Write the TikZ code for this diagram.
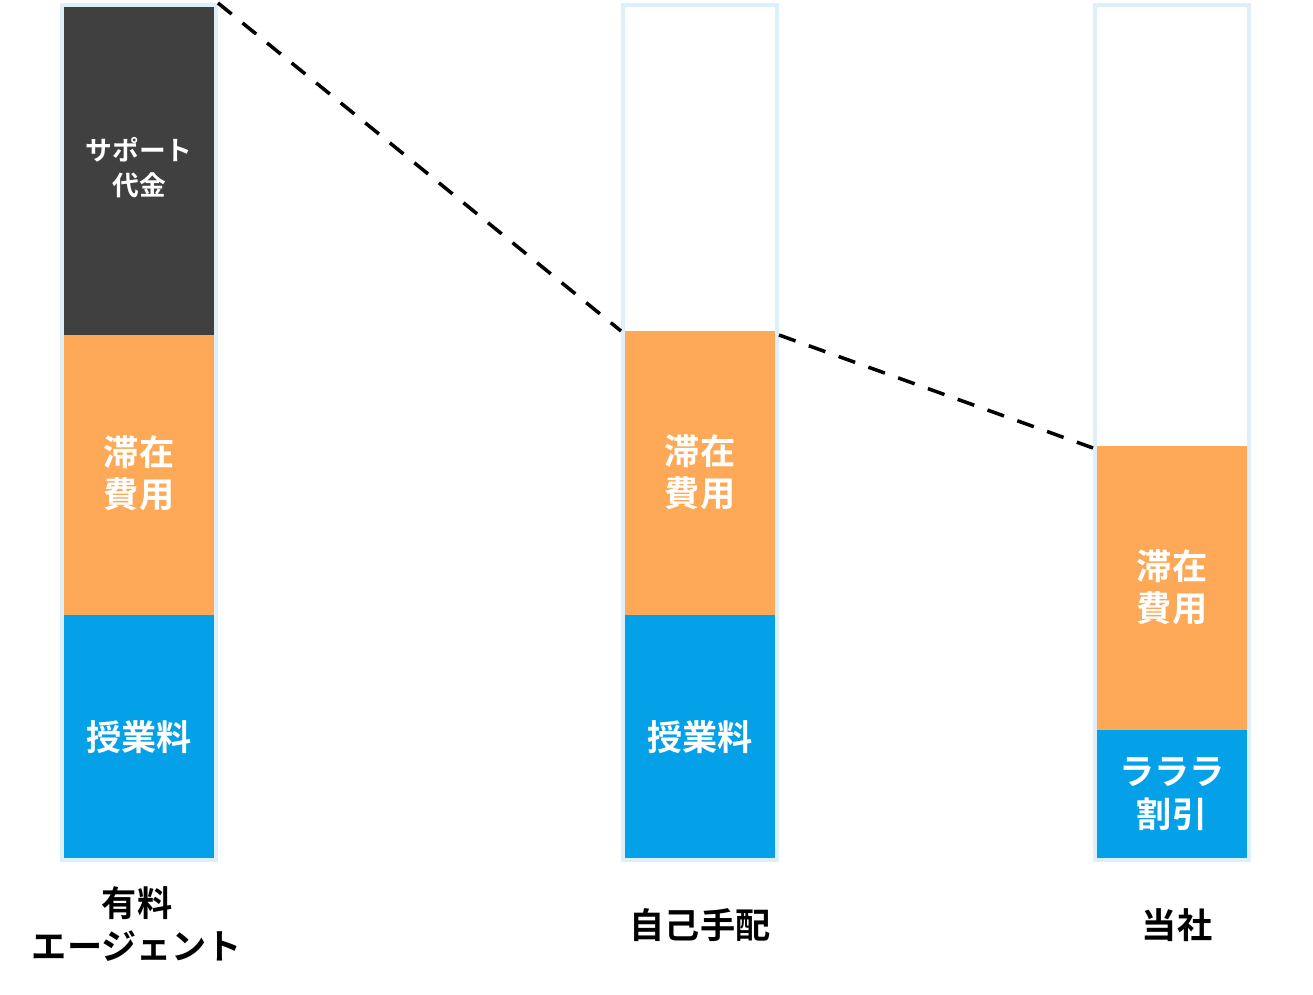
\documentclass[tikz,border=0pt]{standalone}
\usepackage{fontspec}
\newfontfamily\jpfont{Noto Sans CJK JP}[BoldFont={* Bold}]
\definecolor{barline}{HTML}{DDF0FA}
\definecolor{support}{HTML}{404040}
\definecolor{stay}{HTML}{FDA957}
\definecolor{tuition}{HTML}{04A0E8}
\tikzset{
  seg/.style={inner sep=0pt, text=white, align=center, font=\jpfont\bfseries\fontsize{10}{12}\selectfont},
  caption/.style={align=center, font=\jpfont\bfseries\fontsize{10}{12}\selectfont},
  frame/.style={draw=barline, line width=1.2pt},
  link/.style={line width=1pt, dash pattern=on 5pt off 4pt}
}
\begin{document}
\begin{tikzpicture}[x=0.01cm, y=-0.01cm]
\useasboundingbox (0,0) rectangle (1313,994);
% left bar
\fill[support] (62,5) rectangle (216,335);
\fill[stay] (62,335) rectangle (216,615);
\fill[tuition] (62,615) rectangle (216,860);
\draw[frame] (62,5) rectangle (216,860);
\node[seg, font=\jpfont\bfseries\fontsize{7.6}{10}\selectfont] (a1) at (139,168) {サポート\\代金};
\node[seg] (a2) at (139,473) {滞在\\費用};
\node[seg] (a3) at (139,737) {授業料};
\node[caption] (ca) at (137,924) {有料\\エージェント};
% middle bar
\fill[stay] (623,331) rectangle (777,615);
\fill[tuition] (623,615) rectangle (777,860);
\draw[frame] (623,5) rectangle (777,860);
\node[seg] (b2) at (700,472) {滞在\\費用};
\node[seg] (b3) at (700,737) {授業料};
\node[caption] (cb) at (700,925) {自己手配};
% right bar
\fill[stay] (1095,446) rectangle (1249,730);
\fill[tuition] (1095,730) rectangle (1249,860);
\draw[frame] (1095,5) rectangle (1249,860);
\node[seg] (c2) at (1172,587) {滞在\\費用};
\node[seg] (c3) at (1172,794) {ラララ\\割引};
\node[caption] (cc) at (1177,925) {当社};
% dashed links
\coordinate (p1) at (218,3);
\coordinate (p2) at (621,331);
\coordinate (p3) at (779,335);
\coordinate (p4) at (1093,448);
\draw[link] (p1) -- (p2);
\draw[link] (p3) -- (p4);
\end{tikzpicture}
\end{document}
